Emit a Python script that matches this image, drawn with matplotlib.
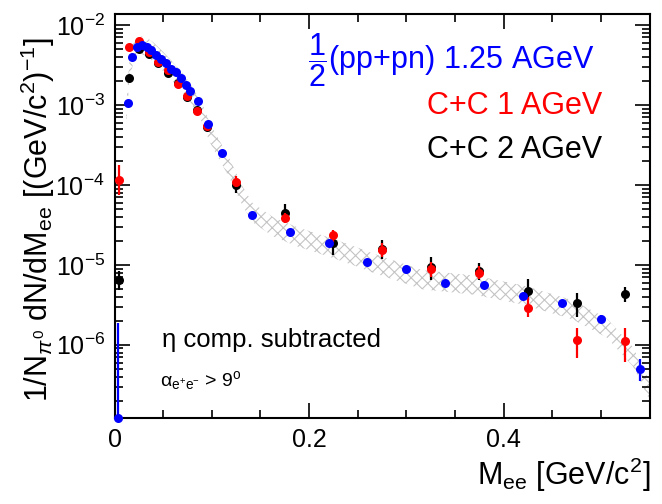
import numpy as np
import matplotlib
matplotlib.use("Agg")
import matplotlib.pyplot as plt
from matplotlib.ticker import LogLocator, FixedLocator, NullFormatter

plt.rcParams['font.family'] = ['Liberation Sans', 'DejaVu Sans']
plt.rcParams['mathtext.fontset'] = 'custom'
plt.rcParams['mathtext.rm'] = 'Liberation Sans'
plt.rcParams['mathtext.it'] = 'Liberation Sans:italic'
plt.rcParams['mathtext.bf'] = 'Liberation Sans:bold'
plt.rcParams['hatch.linewidth'] = 0.8

# ---- data ----
# 1/2(pp+pn) 1.25 AGeV (blue)
pp_x = [0.004, 0.014, 0.018, 0.023, 0.028, 0.033, 0.038, 0.043, 0.048, 0.053,
        0.058, 0.063, 0.068, 0.073, 0.078, 0.086, 0.096, 0.111, 0.141, 0.180,
        0.220, 0.260, 0.300, 0.340, 0.380, 0.420, 0.460, 0.500, 0.540]
pp_y = [1.2e-7, 1.06e-3, 4.0e-3, 5.35e-3, 5.6e-3, 5.35e-3, 4.87e-3, 4.2e-3, 3.73e-3, 3.32e-3,
        2.79e-3, 2.61e-3, 2.16e-3, 1.78e-3, 1.51e-3, 1.12e-3, 5.8e-4, 2.5e-4, 4.2e-5, 2.6e-5,
        1.9e-5, 1.1e-5, 8.8e-6, 5.9e-6, 5.6e-6, 4.1e-6, 3.3e-6, 2.1e-6, 5.0e-7]
pp_lo = [1.2e-7, 1.0e-3, 3.9e-3, 5.25e-3, 5.5e-3, 5.25e-3, 4.8e-3, 4.1e-3, 3.65e-3, 3.25e-3,
         2.73e-3, 2.55e-3, 2.1e-3, 1.74e-3, 1.47e-3, 1.09e-3, 5.6e-4, 2.4e-4, 4.0e-5, 2.45e-5,
         1.8e-5, 1.03e-5, 8.2e-6, 5.4e-6, 5.1e-6, 3.7e-6, 2.95e-6, 1.85e-6, 3.5e-7]
pp_hi = [1.9e-6, 1.12e-3, 4.1e-3, 5.45e-3, 5.7e-3, 5.45e-3, 4.95e-3, 4.3e-3, 3.8e-3, 3.4e-3,
         2.85e-3, 2.67e-3, 2.22e-3, 1.82e-3, 1.55e-3, 1.15e-3, 6.0e-4, 2.6e-4, 4.4e-5, 2.75e-5,
         2.0e-5, 1.17e-5, 9.4e-6, 6.4e-6, 6.1e-6, 4.5e-6, 3.65e-6, 2.35e-6, 6.7e-7]

# C+C 1 AGeV (red)
cc1_x = [0.005, 0.015, 0.025, 0.035, 0.045, 0.055, 0.065, 0.075, 0.085, 0.095,
         0.125, 0.175, 0.225, 0.275, 0.325, 0.375, 0.425, 0.475, 0.525]
cc1_y = [1.15e-4, 5.3e-3, 6.4e-3, 4.6e-3, 3.5e-3, 2.75e-3, 1.85e-3, 1.3e-3, 8.3e-4, 5.5e-4,
         1.1e-4, 3.85e-5, 2.35e-5, 1.55e-5, 8.8e-6, 8.0e-6, 2.9e-6, 1.15e-6, 1.1e-6]
cc1_lo = [7.5e-5, 5.0e-3, 6.1e-3, 4.4e-3, 3.35e-3, 2.6e-3, 1.75e-3, 1.22e-3, 7.8e-4, 5.1e-4,
          9.3e-5, 3.3e-5, 1.95e-5, 1.25e-5, 7.0e-6, 6.6e-6, 2.2e-6, 6.9e-7, 6.1e-7]
cc1_hi = [1.78e-4, 5.6e-3, 6.7e-3, 4.8e-3, 3.65e-3, 2.9e-3, 1.95e-3, 1.38e-3, 8.8e-4, 5.9e-4,
          1.28e-4, 4.5e-5, 2.75e-5, 1.9e-5, 1.1e-5, 9.6e-6, 4.0e-6, 1.6e-6, 1.6e-6]

# C+C 2 AGeV (black)
cc2_x = [0.005, 0.015, 0.025, 0.035, 0.045, 0.055, 0.065, 0.075, 0.085, 0.095,
         0.125, 0.175, 0.225, 0.275, 0.325, 0.375, 0.425, 0.475, 0.525]
cc2_y = [6.5e-6, 2.2e-3, 5.0e-3, 4.3e-3, 3.4e-3, 2.55e-3, 1.9e-3, 1.27e-3, 8.7e-4, 5.3e-4,
         1.0e-4, 4.5e-5, 1.9e-5, 1.6e-5, 9.5e-6, 8.4e-6, 4.7e-6, 3.3e-6, 4.3e-6]
cc2_lo = [4.8e-6, 2.05e-3, 4.8e-3, 4.1e-3, 3.25e-3, 2.42e-3, 1.8e-3, 1.2e-3, 8.2e-4, 4.9e-4,
          7.9e-5, 3.5e-5, 1.33e-5, 1.19e-5, 6.5e-6, 6.5e-6, 3.6e-6, 2.24e-6, 3.4e-6]
cc2_hi = [8.5e-6, 2.35e-3, 5.2e-3, 4.5e-3, 3.55e-3, 2.68e-3, 2.0e-3, 1.34e-3, 9.2e-4, 5.7e-4,
          1.2e-4, 5.8e-5, 2.4e-5, 2.05e-5, 1.27e-5, 1.05e-5, 6.7e-6, 4.5e-6, 5.3e-6]

# systematic band (reference shape)
band_x = [0.012, 0.015, 0.020, 0.030, 0.040, 0.050, 0.060, 0.070, 0.080, 0.090,
          0.098, 0.119, 0.132, 0.142, 0.163, 0.188, 0.220, 0.249, 0.266, 0.317,
          0.369, 0.420, 0.471, 0.506, 0.533, 0.550]
band_y = [7e-4, 2.5e-3, 5.0e-3, 5.6e-3, 4.6e-3, 3.5e-3, 2.6e-3, 1.9e-3, 1.3e-3, 8.0e-4,
          4.5e-4, 1.54e-4, 7.1e-5, 4.5e-5, 3.0e-5, 2.24e-5, 1.68e-5, 1.26e-5, 1.05e-5, 6.5e-6,
          5.6e-6, 4.2e-6, 2.74e-6, 1.63e-6, 7.1e-7, 2.7e-7]
band_rel = 0.12  # half-width in decades

# ---- figure ----
fig = plt.figure(figsize=(6.62, 5.04), dpi=100)
ax = fig.add_axes([0.173, 0.171, 0.809, 0.801])
ax.set_yscale('log')
ax.set_xlim(0, 0.5506)
ax.set_ylim(1.22e-7, 1.372e-2)

bx = np.array(band_x)
by = np.array(band_y)
ax.fill_between(bx, by * 10**(-band_rel), by * 10**band_rel, facecolor='none',
                edgecolor='#c4c4c4', hatch='xxx', linewidth=0, zorder=1)

def draw(x, y, lo, hi, color, z):
    x = np.array(x); y = np.array(y)
    yerr = np.vstack([y - np.array(lo), np.array(hi) - y])
    ax.errorbar(x, y, yerr=yerr, fmt='o', color=color, ms=6.5, mew=0,
                elinewidth=1.6, capsize=0, zorder=z, clip_on=False)

draw(cc2_x, cc2_y, cc2_lo, cc2_hi, 'black', 3)
draw(cc1_x, cc1_y, cc1_lo, cc1_hi, 'red', 4)
draw(pp_x, pp_y, pp_lo, pp_hi, 'blue', 5)

# ticks
ax.xaxis.set_major_locator(FixedLocator([0, 0.2, 0.4]))
ax.xaxis.set_minor_locator(FixedLocator(np.arange(0, 0.55, 0.05)))
ax.set_xticklabels(['0', '0.2', '0.4'])
ax.yaxis.set_minor_locator(LogLocator(base=10, subs=np.arange(2, 10), numticks=20))
ax.yaxis.set_minor_formatter(NullFormatter())
ax.set_yticks([1e-6, 1e-5, 1e-4, 1e-3, 1e-2])
ax.set_yticklabels([r'10$^{-6}$', r'10$^{-5}$', r'10$^{-4}$', r'10$^{-3}$', r'10$^{-2}$'])
ax.tick_params(which='both', direction='in', top=True, right=True, labelsize=18, width=1.2)
ax.tick_params(which='major', length=11, pad=7)
ax.tick_params(which='minor', length=6)
for s in ax.spines.values():
    s.set_linewidth(1.5)

ax.set_ylabel(r'1/N$_{\pi^0}$ dN/dM$_{\mathrm{ee}}$ [(GeV/c$^2$)$^{-1}$]', fontsize=22,
              va='center')
ax.yaxis.set_label_coords(-0.143, 0.49)
ax.set_xlabel(r'M$_{\mathrm{ee}}$ [GeV/c$^2$]', fontsize=22, ha='right')
ax.xaxis.set_label_coords(1.0, -0.095)

# legend texts
ax.text(0.895, 0.885, r'$\dfrac{1}{2}$(pp+pn) 1.25 AGeV', transform=ax.transAxes,
        color='blue', fontsize=22, ha='right', va='center')
ax.text(0.91, 0.772, 'C+C 1 AGeV', transform=ax.transAxes, color='red',
        fontsize=22, ha='right', va='center')
ax.text(0.91, 0.664, 'C+C 2 AGeV', transform=ax.transAxes, color='black',
        fontsize=22, ha='right', va='center')

ax.text(0.088, 0.193, 'η comp. subtracted', transform=ax.transAxes,
        fontsize=18.5, ha='left', va='center')
ax.text(0.085, 0.093, r'α$_{\mathrm{e^{+}e^{-}}}$ > 9$^{\mathrm{o}}$', transform=ax.transAxes,
        fontsize=14, ha='left', va='center')

fig.savefig('out.png', dpi=100)
